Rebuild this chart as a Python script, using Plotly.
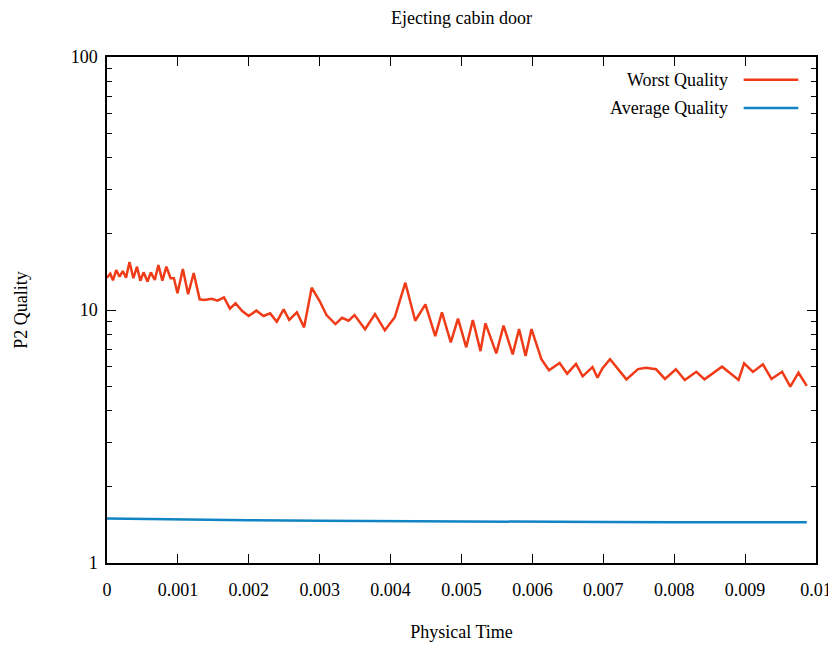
import plotly.graph_objects as go

# Worst quality series (physical time, quality)
worst_time = [
    0.0, 0.000046, 0.000084, 0.00013, 0.000177, 0.000223, 0.000269, 0.000317, 0.000372, 0.000423,
    0.00047, 0.000516, 0.000572, 0.000618, 0.000674, 0.000725, 0.000781, 0.000837, 0.000897, 0.000944,
    0.000994, 0.00107, 0.001144, 0.001223, 0.001307, 0.001371, 0.001478, 0.001558, 0.00165, 0.001734,
    0.001813, 0.001907, 0.001999, 0.002106, 0.002208, 0.002301, 0.002395, 0.002492, 0.00257, 0.002678,
    0.00278, 0.002887, 0.002999, 0.003096, 0.003222, 0.003315, 0.003407, 0.003491, 0.00364, 0.00378,
    0.003919, 0.004059, 0.004208, 0.004347, 0.004491, 0.00463, 0.004724, 0.004849, 0.004951, 0.005067,
    0.00516, 0.005268, 0.005338, 0.005491, 0.005593, 0.005722, 0.005812, 0.005904, 0.005987, 0.006127,
    0.006234, 0.006384, 0.00649, 0.006615, 0.006709, 0.006848, 0.006918, 0.006987, 0.007095, 0.007206,
    0.007326, 0.00749, 0.007601, 0.007745, 0.00787, 0.008024, 0.008149, 0.008312, 0.008428, 0.008675,
    0.008908, 0.008986, 0.009111, 0.009251, 0.009372, 0.009522, 0.009637, 0.009753, 0.00987,
]
worst_quality = [
    13.42, 13.92, 13.10, 14.39, 13.54, 14.26, 13.42, 15.48, 13.35, 14.83,
    13.05, 14.09, 12.94, 14.09, 13.14, 15.06, 13.05, 14.83, 13.35, 13.35,
    11.64, 14.53, 11.54, 14.00, 11.02, 10.95, 11.08, 10.88, 11.22, 10.12,
    10.63, 9.91, 9.47, 9.94, 9.47, 9.70, 8.99, 10.06, 9.13, 9.79,
    8.54, 12.25, 10.85, 9.55, 8.80, 9.32, 9.07, 9.55, 8.39, 9.64,
    8.31, 9.36, 12.82, 9.07, 10.53, 7.89, 9.79, 7.45, 9.25, 7.12,
    9.13, 6.88, 8.86, 6.74, 8.67, 6.68, 8.41, 6.58, 8.41, 6.39,
    5.78, 6.17, 5.60, 6.12, 5.47, 5.95, 5.40, 5.88, 6.39, 5.84,
    5.32, 5.84, 5.91, 5.83, 5.34, 5.83, 5.29, 5.70, 5.32, 5.97,
    5.29, 6.16, 5.69, 6.10, 5.34, 5.70, 4.98, 5.65, 5.01,
]

# Average quality series
avg_time = [0.0, 0.001, 0.002, 0.003, 0.004, 0.005, 0.006, 0.007, 0.008, 0.009, 0.00987]
avg_quality = [1.50, 1.485, 1.475, 1.468, 1.462, 1.458, 1.455, 1.452, 1.450, 1.449, 1.448]

x_tickvals = [0, 0.001, 0.002, 0.003, 0.004, 0.005, 0.006, 0.007, 0.008, 0.009, 0.01]
x_ticktext = ["0", "0.001", "0.002", "0.003", "0.004", "0.005", "0.006", "0.007", "0.008", "0.009", "0.01"]
y_tickvals = [1, 10, 100]
y_ticktext = ["1", "10", "100"]
y_minor_tickvals = [2, 3, 4, 5, 6, 7, 8, 9, 20, 30, 40, 50, 60, 70, 80, 90]

series_names = ["Worst Quality", "Average Quality"]
series_colors = ["#ef3b17", "#1184c3"]

FONT = "Liberation Serif, Times New Roman, serif"

fig = go.Figure()
fig.add_trace(go.Scatter(x=worst_time, y=worst_quality, mode="lines", name=series_names[0],
                         line=dict(color=series_colors[0], width=2.5), showlegend=False))
fig.add_trace(go.Scatter(x=avg_time, y=avg_quality, mode="lines", name=series_names[1],
                         line=dict(color=series_colors[1], width=2.5), showlegend=False))

# gnuplot-style legend: text right-aligned, sample line on the right
legend_y = [0.955, 0.899]
for name, color, ly in zip(series_names, series_colors, legend_y):
    fig.add_annotation(x=0.879, y=ly, xref="paper", yref="paper", text=name, showarrow=False,
                       xanchor="right", yanchor="middle", font=dict(size=18, color="black", family=FONT))
    fig.add_shape(type="line", xref="paper", yref="paper", x0=0.898, x1=0.975, y0=ly, y1=ly,
                  line=dict(color=color, width=2.5))

fig.update_layout(
    width=836, height=648,
    margin=dict(l=96, r=23, t=49, b=93),
    paper_bgcolor="white", plot_bgcolor="white",
    font=dict(family=FONT, size=18, color="black"),
    title=dict(text="Ejecting cabin door", x=0.5, xref="paper", y=0.995, yref="container",
               xanchor="center", yanchor="top", font=dict(size=18, family=FONT)),
)
fig.update_xaxes(
    range=[0, 0.0100001], tickvals=x_tickvals, ticktext=x_ticktext,
    ticks="inside", ticklen=9, tickwidth=1, tickcolor="black",
    showline=True, linecolor="black", linewidth=1.5, mirror="allticks",
    showgrid=False, zeroline=False, ticklabelstandoff=10,
    title=dict(text="Physical Time", standoff=26, font=dict(size=18, family=FONT)),
)
fig.update_yaxes(
    type="log", range=[0, 2], tickvals=y_tickvals, ticktext=y_ticktext,
    ticks="inside", ticklen=9, tickwidth=1, tickcolor="black",
    minor=dict(tickvals=y_minor_tickvals, ticks="inside", ticklen=5, tickcolor="black",
               tickwidth=1, showgrid=False),
    showline=True, linecolor="black", linewidth=1.5, mirror="allticks",
    showgrid=False, zeroline=False, ticklabelstandoff=4,
    title=dict(text="P2 Quality", standoff=38, font=dict(size=18, family=FONT)),
)

fig.write_html("out.html")
